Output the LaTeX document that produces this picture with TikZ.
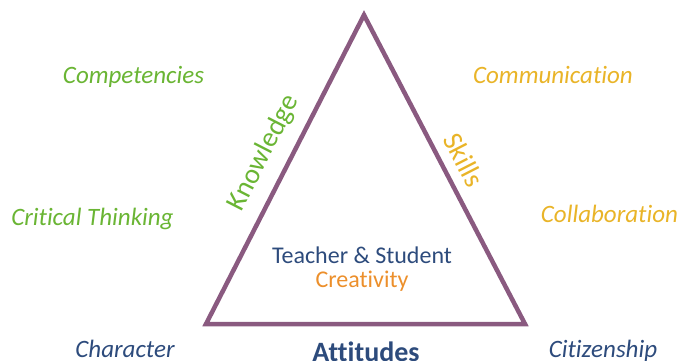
\documentclass[tikz,border=0pt]{standalone}
\usepackage{fontspec}
\setmainfont{Carlito}[Ligatures=NoCommon]
\definecolor{tri}{HTML}{8A5A80}
\definecolor{kgreen}{HTML}{6AB534}
\definecolor{sgold}{HTML}{E9B428}
\definecolor{ablue}{HTML}{2D4B7C}
\definecolor{corange}{HTML}{EC8F2B}
\begin{document}
\begin{tikzpicture}[x=1pt,y=-1pt,
  side/.style={font=\fontsize{28}{30}\selectfont},
  outer/.style={anchor=base, inner sep=0pt, font=\fontsize{25}{27}\selectfont\itshape},
  centre/.style={anchor=base, inner sep=0pt, font=\fontsize{24}{26}\selectfont}]
\useasboundingbox (0,0) rectangle (679,360);
\coordinate (A) at (364,15);
\coordinate (B) at (206,324);
\coordinate (C) at (525,324);
\draw[tri, line width=4.5pt, line join=miter] (A) -- (B) -- (C) -- cycle;
\node[side, text=kgreen, rotate=62.9] (know) at (264,153) {Knowledge};
\node[side, text=sgold, rotate=-62.9] (skills) at (464,160) {Skills};
\node[text=ablue, anchor=base, inner sep=0pt, font=\fontsize{28}{30}\selectfont\bfseries] (att) at (366,361) {Attitudes};
\node[centre, text=ablue] (ts) at (362,263) {Teacher \& Student};
\node[centre, text=corange] (cr) at (362,287) {Creativity};
\node[outer, text=kgreen] (comp) at (133.5,83) {Competencies};
\node[outer, text=kgreen] (crit) at (92.5,225) {Critical Thinking};
\node[outer, text=ablue] (char) at (125,357) {Character};
\node[outer, text=sgold] (comm) at (553,83) {Communication};
\node[outer, text=sgold] (coll) at (609.5,222) {Collaboration};
\node[outer, text=ablue] (cit) at (603,357) {Citizenship};
\end{tikzpicture}
\end{document}
